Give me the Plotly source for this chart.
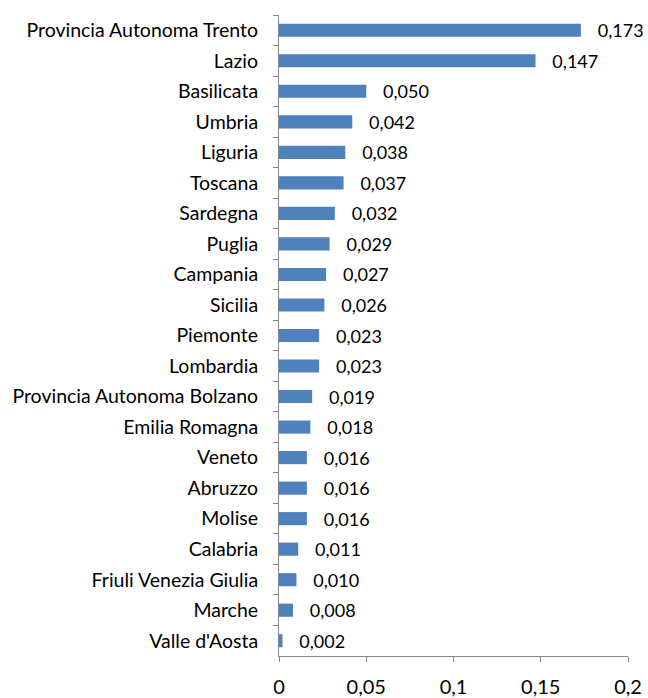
import plotly.graph_objects as go

regions = ["Provincia Autonoma Trento", "Lazio", "Basilicata", "Umbria", "Liguria", "Toscana",
           "Sardegna", "Puglia", "Campania", "Sicilia", "Piemonte", "Lombardia",
           "Provincia Autonoma Bolzano", "Emilia Romagna", "Veneto", "Abruzzo", "Molise",
           "Calabria", "Friuli Venezia Giulia", "Marche", "Valle d'Aosta"]
values = [0.173, 0.147, 0.050, 0.042, 0.038, 0.037, 0.032, 0.029, 0.027, 0.026, 0.023, 0.023,
          0.019, 0.018, 0.016, 0.016, 0.016, 0.011, 0.010, 0.008, 0.002]
x_ticks = [0, 0.05, 0.1, 0.15, 0.2]

FONT = "Lato"
AX = "#868686"

fig = go.Figure(go.Bar(
    x=values, y=regions, orientation="h",
    marker=dict(color="#4F81BD", line=dict(width=0)),
    width=0.43,
    texttemplate="\u00a0\u00a0\u00a0%{x:.3f}", textposition="outside",
    constraintext="none",
    textfont=dict(family=FONT, size=18, color="#000000"),
    cliponaxis=False,
))

fig.update_layout(
    width=648, height=698,
    margin=dict(l=279, r=20, t=15, b=42, autoexpand=False),
    paper_bgcolor="white", plot_bgcolor="white",
    separators=", ",
    showlegend=False,
    font=dict(family=FONT, color="#000000"),
)
fig.update_xaxes(
    range=[0, 0.2], tickvals=x_ticks, showgrid=False, zeroline=False,
    showline=True, linecolor=AX, linewidth=1, automargin=False,
    ticks="outside", ticklen=5, tickcolor=AX,
    tickfont=dict(family=FONT, size=20), ticklabelstandoff=8,
)
fig.update_yaxes(
    autorange="reversed", showgrid=False, showline=True, linecolor=AX, linewidth=1,
    automargin=False,
    ticks="outside", ticklen=5, tickcolor=AX, tickson="boundaries",
    tickfont=dict(family=FONT, size=19.5), ticklabelstandoff=16,
)

fig.write_html("out.html", config={"displayModeBar": False},
               post_script="document.body.style.margin='0';")
